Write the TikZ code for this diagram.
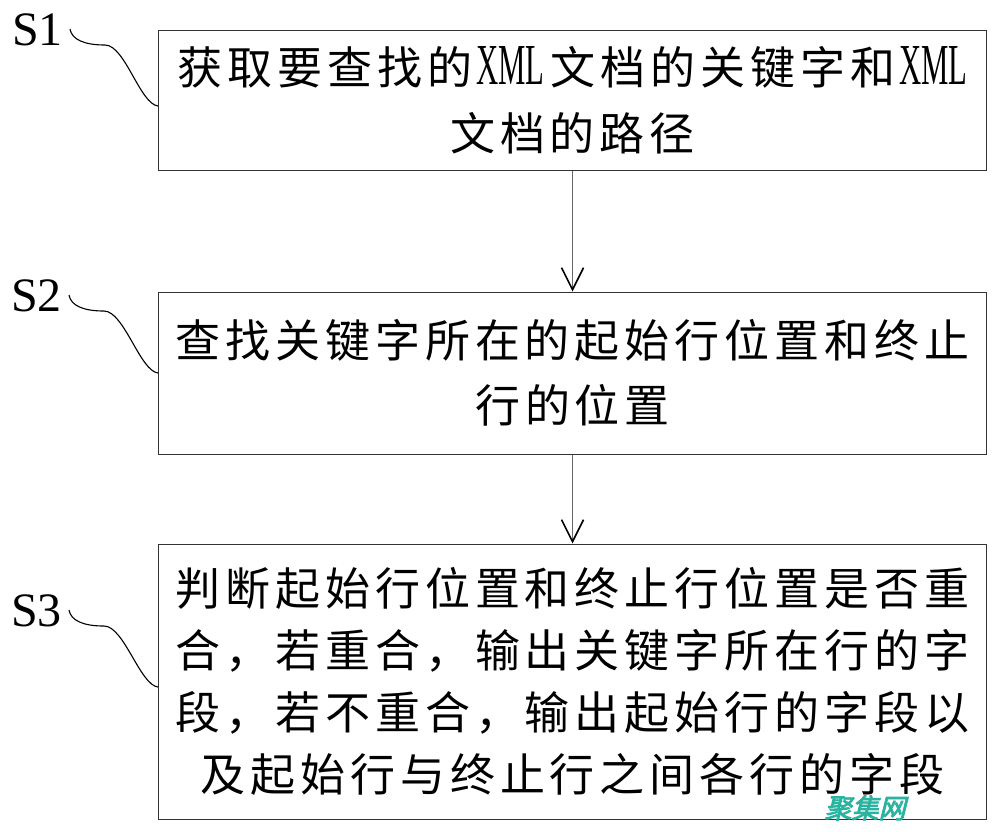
\documentclass[tikz,border=0pt]{standalone}
\usepackage{graphicx}
\usepackage{fontspec}
\setmainfont{Liberation Serif}
\newfontfamily\cjk[LetterSpace=11]{Noto Sans CJK SC}
\newfontfamily\latinserif{Liberation Serif}
\newfontfamily\wmfont[FakeSlant=0.25,FakeBold=3]{Noto Sans CJK SC}
\usetikzlibrary{arrows.meta}
\definecolor{wmteal}{RGB}{42,180,160}
\newcommand{\xml}{\hspace{4pt}\scalebox{0.53}[1]{\latinserif\fontsize{58}{58}\selectfont XML}\hspace{6pt}}
\tikzset{
    stepbox/.style={draw=black!80, line width=1pt, minimum width=828pt, inner sep=0pt,
        align=center, font=\cjk\fontsize{45}{62}\selectfont},
    steplbl/.style={inner sep=0pt, font=\fontsize{48}{48}\selectfont},
    leader/.style={line width=1.1pt},
    flow/.style={draw=black!60, line width=1pt, -{Straight Barb[length=22pt,width=22pt,line width=1.6pt,black]}}
}

\begin{document}
\begin{tikzpicture}[x=1pt,y=-1pt]
    \useasboundingbox[fill=white] (0,0) rectangle (1000,831);

    % Step boxes
    \node[stepbox, minimum height=140pt, font=\cjk\fontsize{45}{66}\selectfont] (box1) at (572.5,100)
        {获取要查找的\xml 文档的关键字和\xml\\文档的路径};
    \node[stepbox, minimum height=162pt, font=\cjk\fontsize{45}{65}\selectfont] (box2) at (572.5,373)
        {查找关键字所在的起始行位置和终止\\行的位置};
    \node[stepbox, minimum height=275pt] (box3) at (572.5,681.5)
        {判断起始行位置和终止行位置是否重\\合，若重合，输出关键字所在行的字\\段，若不重合，输出起始行的字段以\\及起始行与终止行之间各行的字段};

    % Flow arrows
    \draw[flow] (box1.south) -- (box2.north);
    \draw[flow] (box2.south) -- (box3.north);

    % Step labels
    \node[steplbl, anchor=east] (lbl1) at (63,30) {S1};
    \node[steplbl, anchor=east] (lbl2) at (62,296) {S2};
    \node[steplbl, anchor=east] (lbl3) at (62,611) {S3};

    % Leader curves from labels to boxes
    \foreach \i/\dy in {1/-6,2/0,3/-5.5} {
        \draw[leader] ([shift={(7,-1)}]lbl\i.east) .. controls +(2,11) and +(-20,0) .. +(35,16)
            .. controls +(20,0) and +(-18,-2) .. ([yshift=\dy pt]box\i.west);
    }

    % Watermark
    \node[text=wmteal, font=\wmfont\fontsize{27}{27}\selectfont] (wm) at (865,808) {聚集网};
\end{tikzpicture}
\end{document}
